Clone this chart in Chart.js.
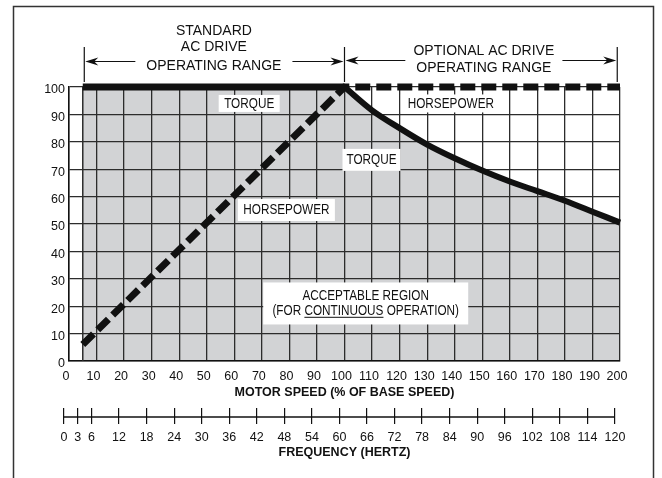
<!DOCTYPE html>
<html>
<head>
<meta charset="utf-8">
<script src="https://cdn.jsdelivr.net/npm/chart.js@4"></script>
<style>
  html, body { margin: 0; padding: 0; background: #fff; }
  #wrap { position: relative; width: 662px; height: 478px; }
</style>
</head>
<body>
<div id="wrap"><canvas id="c"></canvas></div>
<script>
// Plage de fonctionnement AC drive : couple / puissance vs vitesse moteur.
const REGION_START = 5;                       // début de la zone acceptable (% vitesse)
const CT_SPEED = [5, 100];                    // couple constant
const CT_TORQUE = [100, 100];
const CHP_SPEED = [100, 110, 120, 130, 140, 150, 160, 170, 180, 190, 200];
const CHP_TORQUE = [100, 91.5, 85, 79, 74, 69.5, 65.5, 62, 58.5, 54.5, 50.5];
const HP_SPEED = [5, 100, 200];
const HP_VALUE = [6, 100, 100];
const FREQ_TICKS = [0, 3, 6, 12, 18, 24, 30, 36, 42, 48, 54, 60, 66, 72, 78, 84, 90, 96, 102, 108, 114, 120];

const INK = "#111";
const GRID = "#2c2c2c";
const GRAY = "#d2d3d5";
const FONT = "'Liberation Sans', Arial, sans-serif";

const pts = (xs, ys) => xs.map((x, i) => ({ x, y: ys[i] }));
const tickFont = { family: FONT, size: 12.5 };
const titleFont = { family: FONT, size: 12.5, weight: "bold" };

// texte "condensé" façon Helvetica Narrow
function narrowText(ctx, t, x, y, sx = 0.84) {
  ctx.save();
  ctx.translate(x, y);
  ctx.scale(sx, 1);
  ctx.fillText(t, 0, 0);
  ctx.restore();
  return ctx.measureText(t).width * sx;
}

function arrow(ctx, x1, x2, y) {
  const dir = Math.sign(x2 - x1);
  ctx.beginPath(); ctx.moveTo(x1, y); ctx.lineTo(x2 - dir * 8, y); ctx.stroke();
  ctx.beginPath();
  ctx.moveTo(x2, y);
  ctx.lineTo(x2 - dir * 13, y - 4);
  ctx.lineTo(x2 - dir * 9, y);
  ctx.lineTo(x2 - dir * 13, y + 4);
  ctx.closePath(); ctx.fill();
}

const annotations = {
  id: "annotations",
  afterDatasetsDraw(chart) {
    const { ctx, scales: { x, y } } = chart;
    const boxes = [
      { lines: ["TORQUE"], vx: 65.4, vy: 94, w: 61, h: 17 },
      { lines: ["HORSEPOWER"], vx: 138.6, vy: 94, w: 100, h: 18 },
      { lines: ["TORQUE"], vx: 109.8, vy: 73.4, w: 58, h: 22 },
      { lines: ["HORSEPOWER"], vx: 78.9, vy: 55.1, w: 97, h: 22 },
      { lines: ["ACCEPTABLE REGION", "(FOR CONTINUOUS OPERATION)"], vx: 107.7, vy: 21, w: 205, h: 42 },
    ];
    const sx = 0.84;
    ctx.save();
    ctx.font = `14px ${FONT}`;
    ctx.textAlign = "center";
    ctx.textBaseline = "middle";
    for (const b of boxes) {
      const cx = x.getPixelForValue(b.vx), cy = y.getPixelForValue(b.vy);
      ctx.fillStyle = "#fff";
      ctx.fillRect(cx - b.w / 2, cy - b.h / 2, b.w, b.h);
      ctx.fillStyle = INK;
      const lh = 14.7;
      b.lines.forEach((t, i) => {
        const ty = cy + (i - (b.lines.length - 1) / 2) * lh;
        narrowText(ctx, t, cx, ty + 0.5, sx);
        if (t.includes("CONTINUOUS")) {
          const full = ctx.measureText(t).width * sx;
          const pre = ctx.measureText("(FOR ").width * sx;
          const w = ctx.measureText("CONTINUOUS").width * sx;
          const x0 = cx - full / 2 + pre;
          ctx.strokeStyle = INK; ctx.lineWidth = 1;
          ctx.beginPath(); ctx.moveTo(x0, ty + 6.5); ctx.lineTo(x0 + w, ty + 6.5); ctx.stroke();
        }
      });
    }
    ctx.restore();
  },
  afterDraw(chart) {
    const { ctx, chartArea, scales: { x } } = chart;
    ctx.save();
    // cadre extérieur
    ctx.strokeStyle = "#333"; ctx.lineWidth = 1.5;
    ctx.strokeRect(13.5, 6.5, 640, 520);

    const top = chartArea.top;
    const xa = x.getPixelForValue(REGION_START) + 1.5;
    const xb = x.getPixelForValue(100);
    const xc = x.getPixelForValue(199);
    ctx.strokeStyle = INK; ctx.fillStyle = INK; ctx.lineWidth = 1.2;
    for (const bx of [xa, xb, xc]) {
      ctx.beginPath(); ctx.moveTo(bx, top - 40); ctx.lineTo(bx, top - 5); ctx.stroke();
    }
    ctx.font = `14px ${FONT}`;
    ctx.textAlign = "center"; ctx.textBaseline = "middle";
    const ay = top - 25.5;

    const lc = (xa + xb) / 2 - 0.5;
    ctx.fillText("STANDARD", lc, top - 55.5);
    ctx.fillText("AC DRIVE", lc, top - 39.5);
    ctx.fillText("OPERATING RANGE", lc, top - 21);
    let w = ctx.measureText("OPERATING RANGE").width / 2 + 11;
    arrow(ctx, lc - w, xa + 1, ay);
    arrow(ctx, lc + w, xb - 1, ay);

    const rc = (xb + xc) / 2 + 3;
    ctx.fillText("OPTIONAL AC DRIVE", rc, top - 35.5);
    ctx.fillText("OPERATING RANGE", rc, top - 18.5);
    w = ctx.measureText("OPERATING RANGE").width / 2 + 11;
    arrow(ctx, rc - w, xb + 1, ay - 1);
    arrow(ctx, rc + w, xc - 1, ay - 1);

    // ligne de l'axe des fréquences (les graduations viennent de l'échelle xf)
    const f = chart.scales.xf;
    ctx.lineWidth = 1.3;
    ctx.beginPath();
    ctx.moveTo(f.getPixelForValue(FREQ_TICKS[0]), f.top + 9);
    ctx.lineTo(f.getPixelForValue(FREQ_TICKS[FREQ_TICKS.length - 1]), f.top + 9);
    ctx.stroke();
    ctx.restore();
  },
};

const lineBase = {
  pointRadius: 0, borderCapStyle: "butt", clip: false, borderColor: INK,
};

new Chart(document.getElementById("c"), {
  type: "line",
  data: {
    datasets: [
      { ...lineBase, label: "TORQUE", data: pts(CT_SPEED, CT_TORQUE), borderWidth: 7,
        fill: "origin", backgroundColor: GRAY },
      { ...lineBase, label: "TORQUE", data: pts(CHP_SPEED, CHP_TORQUE), borderWidth: 6,
        cubicInterpolationMode: "monotone", fill: "origin", backgroundColor: GRAY },
      { ...lineBase, label: "HORSEPOWER", data: pts(HP_SPEED, HP_VALUE), borderWidth: 7,
        borderDash: [15, 6], fill: false },
      { ...lineBase, label: "", data: pts([REGION_START, REGION_START], [0, 100]),
        borderWidth: 1.5, borderColor: GRID, fill: false },
    ],
  },
  options: {
    responsive: true, maintainAspectRatio: false, animation: false, devicePixelRatio: 1,
    layout: { padding: { top: 87, right: 42, bottom: 17, left: 0 } },
    plugins: {
      legend: { display: false }, tooltip: { enabled: false },
      filler: { drawTime: "beforeDraw" },
    },
    scales: {
      x: {
        type: "linear", position: "bottom", weight: 0, min: 0, max: 200,
        ticks: { stepSize: 10, padding: 8.5, color: INK, font: tickFont, labelOffset: -3,
                 autoSkip: false, maxRotation: 0 },
        grid: { color: GRID, lineWidth: 1.3, drawTicks: false },
        border: { color: INK, width: 1.5 },
        title: { display: true, text: "MOTOR SPEED (% OF BASE SPEED)", color: INK,
                 font: titleFont, padding: { top: 0, bottom: 7.5 } },
        afterFit: (s) => { s.height = 47; },
      },
      xf: {
        type: "linear", position: "bottom", weight: 1, min: 1.1, max: 121.1,
        afterBuildTicks: (s) => { s.ticks = FREQ_TICKS.map((v) => ({ value: v })); },
        ticks: { padding: 6.5, color: INK, font: tickFont, autoSkip: false, maxRotation: 0 },
        grid: { drawOnChartArea: false, drawTicks: true, tickLength: 16, color: INK, lineWidth: 1.2 },
        border: { display: false },
        title: { display: true, text: "FREQUENCY (HERTZ)", color: INK,
                 font: titleFont, padding: { top: 0, bottom: 1 } },
        afterFit: (s) => { s.height = 53; },
      },
      y: {
        min: 0, max: 100,
        ticks: { stepSize: 10, padding: 4, color: INK, font: tickFont, labelOffset: 3 },
        grid: { color: GRID, lineWidth: 1.3, drawTicks: false },
        border: { color: INK, width: 1.5 },
        afterFit: (s) => { s.width = 69; },
      },
    },
  },
  plugins: [annotations],
});
</script>
</body>
</html>
